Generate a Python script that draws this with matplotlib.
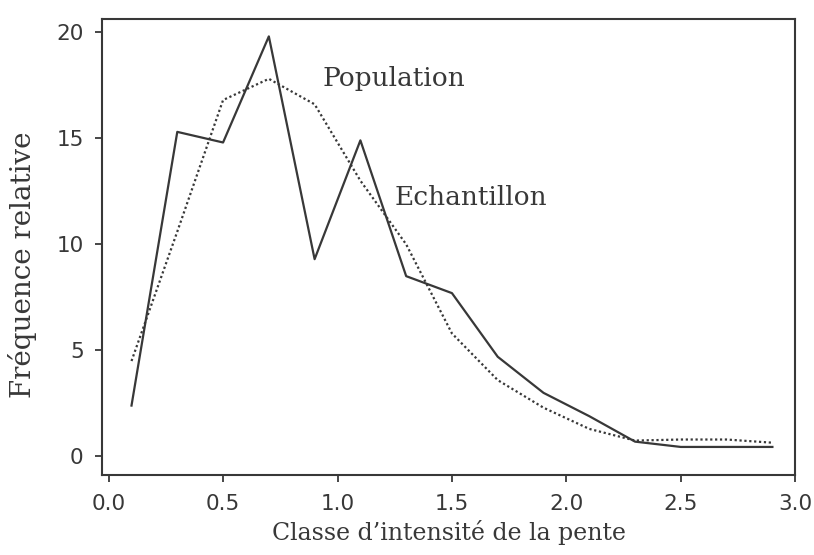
import matplotlib.pyplot as plt

classes = [0.1, 0.3, 0.5, 0.7, 0.9, 1.1, 1.3, 1.5, 1.7, 1.9, 2.1, 2.3, 2.5, 2.7, 2.9]
echantillon = [2.4, 15.3, 14.8, 19.8, 9.3, 14.9, 8.5, 7.7, 4.7, 3.0, 1.9, 0.7, 0.45, 0.45, 0.45]
population = [4.5, 10.6, 16.8, 17.8, 16.6, 13.0, 10.0, 5.8, 3.6, 2.3, 1.3, 0.75, 0.8, 0.8, 0.65]

xticks = [0.0, 0.5, 1.0, 1.5, 2.0, 2.5, 3.0]
yticks = [0, 5, 10, 15, 20]

ink = '#383838'
serif = ['DejaVu Serif']

fig = plt.figure(figsize=(8.14, 5.55), dpi=100)
ax = fig.add_axes([0.125, 0.145, 0.852, 0.82])

ax.plot(classes, echantillon, color=ink, lw=1.6, ls='-')
ax.plot(classes, population, color=ink, lw=1.6, ls=(0, (1, 1.2)))

ax.text(0.935, 17.8, 'Population', family=serif, fontsize=19, color=ink, va='center')
ax.text(1.25, 12.2, 'Echantillon', family=serif, fontsize=19, color=ink, va='center')

ax.set_xlim(-0.03, 3.0)
ax.set_ylim(-0.85, 20.6)
ax.set_xticks(xticks)
ax.set_xticklabels(['%.1f' % t for t in xticks])
ax.set_yticks(yticks)
for lab in ax.get_xticklabels() + ax.get_yticklabels():
    lab.set_family('DejaVu Sans')
    lab.set_fontsize(15.5)
    lab.set_color(ink)
ax.tick_params(direction='out', length=5, width=1.3, color=ink)
ax.tick_params(axis='x', pad=9)
ax.tick_params(axis='y', pad=8)

ax.set_xlabel('Classe d\u2019intensité de la pente', family=serif, fontsize=17, color=ink, labelpad=4)
ax.set_ylabel('Fréquence relative', family=serif, fontsize=20, color=ink)
ax.yaxis.set_label_coords(-0.094, 0.46)

for s in ax.spines.values():
    s.set_color(ink)
    s.set_linewidth(1.5)

fig.savefig('out.png', dpi=100)
